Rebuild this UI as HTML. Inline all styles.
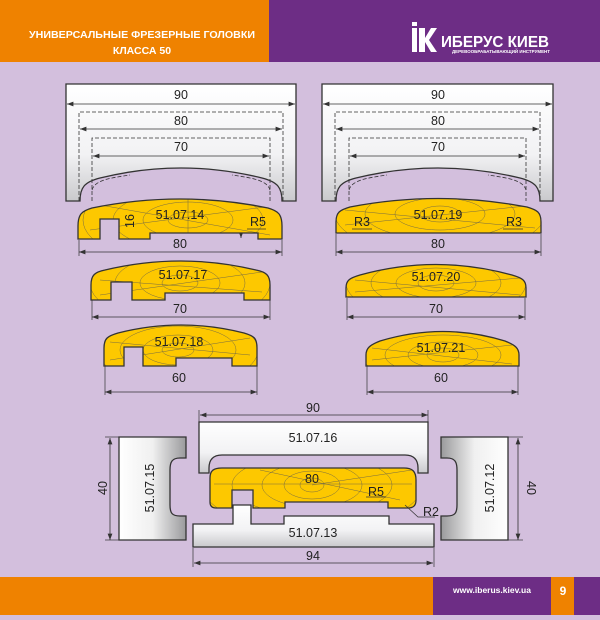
<!DOCTYPE html>
<html><head><meta charset="utf-8"><style>
html,body{margin:0;padding:0}
body{width:600px;height:615px;overflow:hidden;background:#d3bfdd;font-family:"Liberation Sans",sans-serif}
</style></head><body>
<svg width="600" height="615" viewBox="0 0 600 615" xmlns="http://www.w3.org/2000/svg" font-family="Liberation Sans, DejaVu Sans, sans-serif">
<defs>
<linearGradient id="g" x1="0" y1="0" x2="0" y2="1"><stop offset="0" stop-color="#ffffff"/><stop offset="0.6" stop-color="#f2f2f4"/><stop offset="1" stop-color="#c9c9cc"/></linearGradient>
<linearGradient id="gh" x1="0" y1="0" x2="1" y2="0"><stop offset="0" stop-color="#ffffff"/><stop offset="0.5" stop-color="#f0f0f0"/><stop offset="1" stop-color="#9a9a9c"/></linearGradient>
<linearGradient id="gh2" x1="1" y1="0" x2="0" y2="0"><stop offset="0" stop-color="#ffffff"/><stop offset="0.5" stop-color="#f0f0f0"/><stop offset="1" stop-color="#9a9a9c"/></linearGradient>
<marker id="a" markerWidth="8" markerHeight="6" refX="8" refY="3" orient="auto-start-reverse"><path d="M0,0 L8,3 L0,6" fill="#333"/></marker>
<path id="p1" d="M78 226 C78 214 82 211 92 208 Q180 190 268 208 C278 211 282 214 282 226 V239 H258 V233 H150 V239 H119 V219 H100 V239 H78 Z"/>
<path id="p2" d="M336 222 C336 212 340 210 350 207 Q438 190 527 207 C537 210 541 212 541 222 V233 H336 Z"/>
<path id="p3" d="M91 285 C91 275 95 272 105 270 Q181 252 256 270 C266 272 270 275 270 285 V300 H244 V293 H165 V300 H132 V282 H111 V300 H91 Z"/>
<path id="p4" d="M346 288 C346 280 350 278 360 275 Q436 254 512 275 C522 278 526 280 526 288 V297 H346 Z"/>
<path id="p5" d="M104 348 C104 338 108 336 118 333 Q181 317 244 333 C254 336 257 338 257 348 V366 H232 V358 H176 V366 H143 V347 H124 V366 H104 Z"/>
<path id="p6" d="M366 355 C366 348 370 345 380 341 Q443 322 505 341 C515 345 519 348 519 355 V366 H366 Z"/>
<path id="p7" d="M210 478 C210 471 213 468 222 468 H404 C413 468 416 472 416 480 V500 C416 506 413 508 408 508 H388 V502 H285 V508 H253 V490 H232 V508 H216 C212 508 210 506 210 502 Z"/>
<clipPath id="c1"><use href="#p1"/></clipPath><clipPath id="c2"><use href="#p2"/></clipPath>
<clipPath id="c3"><use href="#p3"/></clipPath><clipPath id="c4"><use href="#p4"/></clipPath>
<clipPath id="c5"><use href="#p5"/></clipPath><clipPath id="c6"><use href="#p6"/></clipPath>
<clipPath id="c7"><use href="#p7"/></clipPath>
</defs>
<rect x="0" y="0" width="269" height="62" fill="#ef8200"/>
<rect x="269" y="0" width="331" height="62" fill="#6d2d85"/>
<text x="142" y="38" fill="#fff" font-size="10.5" font-weight="bold" text-anchor="middle" textLength="226" lengthAdjust="spacingAndGlyphs">УНИВЕРСАЛЬНЫЕ ФРЕЗЕРНЫЕ ГОЛОВКИ</text>
<text x="142" y="54" fill="#fff" font-size="10.5" font-weight="bold" text-anchor="middle">КЛАССА 50</text>
<rect x="412" y="28" width="5" height="24" fill="#fff"/><rect x="412" y="22" width="5" height="4" fill="#fff"/>
<path d="M419 28 h6 v10 l6 -10 h6 l-8 12 l8 12 h-6 l-6 -10 v10 h-6z" fill="#fff"/>
<text x="441" y="47" fill="#fff" font-size="16" font-weight="bold" textLength="108" lengthAdjust="spacingAndGlyphs">ИБЕРУС КИЕВ</text>
<text x="452" y="53" fill="#fff" font-size="4.5" font-weight="bold" textLength="98" lengthAdjust="spacingAndGlyphs">ДЕРЕВООБРАБАТЫВАЮЩИЙ ИНСТРУМЕНТ</text>

<g stroke="#333" stroke-width="1.3">
<path d="M66 84 H296 V201 H282 C282 188 278 182 262 178 Q181 158 100 178 C84 182 80 188 80 201 H66 Z" fill="url(#g)"/>
<path d="M322 84 H553 V201 H540 C540 188 536 182 520 178 Q438 158 356 178 C340 182 336 188 336 201 H322 Z" fill="url(#g)"/>
</g>
<g stroke="#333" stroke-width="0.8" fill="none" stroke-dasharray="4,2">
<path d="M79 201 V112 H283 V201"/><path d="M92 201 V138 H270 V201"/>
<path d="M92 190 C95 180 110 178 130 175"/><path d="M270 190 C267 180 252 178 232 175"/>
<path d="M335 201 V112 H540 V201"/><path d="M349 201 V138 H526 V201"/>
<path d="M349 190 C352 180 367 178 387 175"/><path d="M526 190 C523 180 508 178 488 175"/>
</g>
<g stroke="#333" stroke-width="0.8" fill="none" marker-start="url(#a)" marker-end="url(#a)">
<line x1="67" y1="104" x2="295" y2="104"/><line x1="80" y1="129" x2="282" y2="129"/><line x1="93" y1="156" x2="269" y2="156"/>
<line x1="323" y1="104" x2="552" y2="104"/><line x1="336" y1="129" x2="539" y2="129"/><line x1="350" y1="156" x2="525" y2="156"/>
<line x1="79" y1="252" x2="282" y2="252"/><line x1="336" y1="252" x2="541" y2="252"/>
<line x1="92" y1="317" x2="270" y2="317"/><line x1="347" y1="317" x2="525" y2="317"/>
<line x1="105" y1="392" x2="257" y2="392"/><line x1="367" y1="392" x2="518" y2="392"/>
<line x1="200" y1="415" x2="428" y2="415"/><line x1="194" y1="563" x2="433" y2="563"/>
<line x1="110" y1="438" x2="110" y2="540"/><line x1="518" y1="438" x2="518" y2="540"/>
<line x1="241" y1="203" x2="241" y2="238"/>
</g>
<g stroke="#333" stroke-width="0.7">
<line x1="79" y1="240" x2="79" y2="256"/><line x1="282" y1="240" x2="282" y2="256"/>
<line x1="336" y1="234" x2="336" y2="256"/><line x1="541" y1="234" x2="541" y2="256"/>
<line x1="92" y1="300" x2="92" y2="320"/><line x1="270" y1="300" x2="270" y2="320"/>
<line x1="347" y1="298" x2="347" y2="320"/><line x1="525" y1="298" x2="525" y2="320"/>
<line x1="105" y1="366" x2="105" y2="395"/><line x1="257" y1="366" x2="257" y2="395"/>
<line x1="367" y1="366" x2="367" y2="395"/><line x1="518" y1="366" x2="518" y2="395"/>
<line x1="199" y1="410" x2="199" y2="422"/><line x1="428" y1="410" x2="428" y2="422"/>
<line x1="193" y1="548" x2="193" y2="567"/><line x1="434" y1="548" x2="434" y2="567"/>
<line x1="105" y1="437" x2="120" y2="437"/><line x1="105" y1="540" x2="120" y2="540"/>
<line x1="508" y1="437" x2="523" y2="437"/><line x1="508" y1="540" x2="523" y2="540"/>
</g>
<g fill="#fdc800">
<use href="#p1"/><use href="#p2"/><use href="#p3"/><use href="#p4"/><use href="#p5"/><use href="#p6"/><use href="#p7"/>
</g>
<g stroke="#555" stroke-width="0.5" fill="none" opacity="0.8">
<g clip-path="url(#c1)"><ellipse cx="188" cy="220" rx="20" ry="8"/><ellipse cx="188" cy="220" rx="45" ry="18"/><ellipse cx="188" cy="220" rx="75" ry="30"/><ellipse cx="188" cy="220" rx="105" ry="45"/>
<line x1="90" y1="230" x2="280" y2="205"/><line x1="100" y1="205" x2="270" y2="235"/><line x1="188" y1="195" x2="188" y2="240"/></g>
<g clip-path="url(#c2)"><ellipse cx="440" cy="214" rx="20" ry="8"/><ellipse cx="440" cy="214" rx="45" ry="16"/><ellipse cx="440" cy="214" rx="75" ry="25"/><ellipse cx="440" cy="214" rx="105" ry="40"/>
<line x1="345" y1="225" x2="535" y2="205"/><line x1="345" y1="210" x2="535" y2="228"/></g>
<g clip-path="url(#c3)"><ellipse cx="180" cy="283" rx="18" ry="8"/><ellipse cx="180" cy="283" rx="40" ry="17"/><ellipse cx="180" cy="283" rx="65" ry="28"/><ellipse cx="180" cy="283" rx="90" ry="40"/>
<line x1="100" y1="280" x2="262" y2="292"/><line x1="100" y1="295" x2="262" y2="272"/></g>
<g clip-path="url(#c4)"><ellipse cx="436" cy="283" rx="18" ry="8"/><ellipse cx="436" cy="283" rx="40" ry="15"/><ellipse cx="436" cy="283" rx="65" ry="24"/><ellipse cx="436" cy="283" rx="90" ry="36"/>
<line x1="355" y1="292" x2="520" y2="278"/><line x1="355" y1="280" x2="520" y2="295"/></g>
<g clip-path="url(#c5)"><ellipse cx="178" cy="350" rx="16" ry="7"/><ellipse cx="178" cy="350" rx="35" ry="15"/><ellipse cx="178" cy="350" rx="58" ry="24"/><ellipse cx="178" cy="350" rx="80" ry="36"/>
<line x1="110" y1="342" x2="250" y2="355"/><line x1="110" y1="360" x2="250" y2="338"/></g>
<g clip-path="url(#c6)"><ellipse cx="443" cy="355" rx="16" ry="7"/><ellipse cx="443" cy="355" rx="35" ry="13"/><ellipse cx="443" cy="355" rx="58" ry="20"/><ellipse cx="443" cy="355" rx="80" ry="32"/>
<line x1="372" y1="360" x2="512" y2="345"/><line x1="372" y1="348" x2="512" y2="364"/></g>
<g clip-path="url(#c7)"><ellipse cx="312" cy="485" rx="12" ry="7"/><ellipse cx="312" cy="485" rx="28" ry="14"/><ellipse cx="312" cy="485" rx="50" ry="22"/><ellipse cx="312" cy="485" rx="80" ry="30"/><ellipse cx="312" cy="485" rx="110" ry="45"/>
<line x1="214" y1="484" x2="412" y2="484"/><line x1="260" y1="470" x2="400" y2="500"/><line x1="312" y1="485" x2="412" y2="470"/></g>
</g>
<g fill="none" stroke="#333" stroke-width="1.3">
<use href="#p1"/><use href="#p2"/><use href="#p3"/><use href="#p4"/><use href="#p5"/><use href="#p6"/><use href="#p7"/>
</g>
<g stroke="#333" stroke-width="1.3">
<path d="M199 422 H428 V473 H418 V468 C418 460 414 455 405 455 H222 C213 455 209 460 209 468 V473 H199 Z" fill="url(#g)"/>
<path d="M119 437 H186 V458 H180 C172 458 170 462 170 470 V505 C170 513 172 516 180 516 H186 V540 H119 Z" fill="url(#gh)"/>
<path d="M508 437 H441 V458 H447 C455 458 457 462 457 470 V505 C457 513 455 516 447 516 H441 V540 H508 Z" fill="url(#gh2)"/>
<path d="M193 524 H233 V505 H251 V524 H284 V516 H389 V524 H434 V547 H193 Z" fill="url(#g)"/>
</g>
<g stroke="#333" stroke-width="0.7" fill="none">
<path d="M405 505 L418 517 H435"/>
<line x1="352" y1="229" x2="372" y2="229"/><line x1="503" y1="229" x2="523" y2="229"/>
<line x1="247" y1="229" x2="266" y2="229"/><line x1="366" y1="497" x2="386" y2="497"/>
</g>
<g fill="#222" font-size="12.5" text-anchor="middle">
<text x="181" y="99">90</text><text x="181" y="125">80</text><text x="181" y="151">70</text>
<text x="438" y="99">90</text><text x="438" y="125">80</text><text x="438" y="151">70</text>
<text x="180" y="219">51.07.14</text><text x="258" y="226">R5</text>
<text x="134" y="221" transform="rotate(-90 134 221)">16</text>
<text x="180" y="248">80</text>
<text x="438" y="219">51.07.19</text><text x="362" y="226">R3</text><text x="514" y="226">R3</text>
<text x="438" y="248">80</text>
<text x="183" y="279">51.07.17</text><text x="180" y="313">70</text>
<text x="436" y="281">51.07.20</text><text x="436" y="313">70</text>
<text x="179" y="346">51.07.18</text><text x="179" y="382">60</text>
<text x="441" y="352">51.07.21</text><text x="441" y="382">60</text>
<text x="313" y="412">90</text>
<text x="313" y="442">51.07.16</text>
<text x="312" y="483">80</text><text x="376" y="496">R5</text><text x="431" y="516">R2</text>
<text x="313" y="537">51.07.13</text>
<text x="313" y="560">94</text>
<text x="154" y="488" transform="rotate(-90 154 488)">51.07.15</text>
<text x="494" y="488" transform="rotate(-90 494 488)">51.07.12</text>
<text x="107" y="488" transform="rotate(-90 107 488)">40</text>
<text x="527" y="488" transform="rotate(90 527 488)">40</text>
</g>
<rect x="0" y="577" width="433" height="38" fill="#ef8200"/>
<rect x="433" y="577" width="118" height="38" fill="#6d2d85"/>
<rect x="551" y="577" width="23" height="38" fill="#ef8200"/>
<rect x="574" y="577" width="26" height="38" fill="#6d2d85"/>
<text x="492" y="593" fill="#fff" font-size="8.5" font-weight="bold" text-anchor="middle">www.iberus.kiev.ua</text>
<text x="563" y="595" fill="#fff" font-size="12" font-weight="bold" text-anchor="middle">9</text>
</svg>
</body></html>
